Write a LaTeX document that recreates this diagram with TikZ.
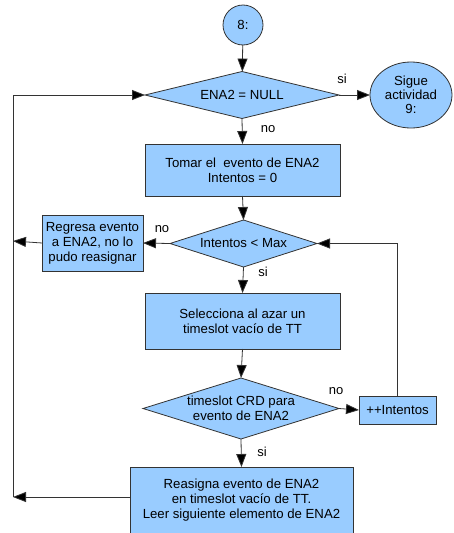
\documentclass[tikz,border=0pt]{standalone}
\usepackage{fontspec}
\setmainfont{Liberation Sans}
\usetikzlibrary{shapes.geometric,arrows.meta}
\definecolor{boxfill}{RGB}{153,204,255}
\definecolor{edge}{RGB}{51,51,51}
\begin{document}
\begin{tikzpicture}[x=1pt,y=-1pt,
  every node/.style={font=\fontsize{13.2}{15}\selectfont, inner sep=0pt, outer sep=0pt},
  proc/.style={draw=edge, line width=0.8pt, fill=boxfill, align=center},
  decide/.style={proc, diamond},
  term/.style={proc, ellipse},
  lbl/.style={font=\fontsize{13}{15}\selectfont},
  arr/.style={draw=edge, line width=0.8pt, -{Triangle[length=13pt,width=10pt,fill=black]}}]
\useasboundingbox (0,0) rectangle (454,533);

% start and end terminals
\node[term, minimum width=40pt, minimum height=40pt] (c8) at (243,25) {8:};
\node[term, minimum width=82pt, minimum height=66pt, align=center,
      font=\fontsize{13.2}{14}\selectfont] (e9) at (411,95) {Sigue\\actividad\\9:};

% decisions
\node[decide, minimum width=194pt, minimum height=47pt, aspect=4.1] (d1) at (242,95) {ENA2 = NULL};
\node[decide, minimum width=147pt, minimum height=47pt, aspect=3.1] (d2) at (243.5,243.5) {Intentos < Max};
\node[decide, minimum width=196pt, minimum height=61pt, aspect=3.2] (d3) at (241,408.5) {timeslot CRD para\\evento de ENA2};

% process boxes
\node[proc, minimum width=195pt, minimum height=52pt] (b1) at (242.5,170) {Tomar el\ \ evento de ENA2\\Intentos = 0};
\node[proc, minimum width=101pt, minimum height=56pt] (rg) at (92.5,243) {Regresa evento\\a ENA2, no lo\\pudo reasignar};
\node[proc, minimum width=195pt, minimum height=56pt] (b2) at (242.5,321) {Selecciona al azar un\\timeslot vacío de TT};
\node[proc, minimum width=77pt, minimum height=28pt] (inc) at (397.5,410) {++Intentos};
\node[proc, minimum width=223pt, minimum height=67pt] (b3) at (241.5,500.5) {Reasigna evento de ENA2\\en timeslot vacío de TT.\\Leer siguiente elemento de ENA2};

% return line on the left
\coordinate (lrg) at (13,241);
\coordinate (lb3) at (13,497);

% connectors
\draw[arr] (c8) -- (d1);
\draw[arr] (d1.east) -- (e9.west);
\draw[arr] (d1.south) -- (b1.north);
\draw[arr] (b1.south) -- (d2.north);
\draw[arr] (d2.west) -- (rg.east);
\draw[arr] (rg.west) -- (lrg);
\draw[arr] (d2.south) -- (b2.north);
\draw[arr] (b2.south) -- (d3.north);
\draw[arr] (d3.east) -- (inc.west);
\draw[arr] (inc.north) |- (d2.east);
\draw[arr] (d3.south) -- (b3.north);
\draw[arr] (b3.west |- lb3) -- (lb3);
\draw[arr] (lb3) |- (d1.west);

% branch labels
\node[lbl] (s1) at (342,79) {si};
\node[lbl] (n1) at (268,129) {no};
\node[lbl] (n2) at (162,229) {no};
\node[lbl] (s2) at (263,272) {si};
\node[lbl] (n3) at (336,391) {no};
\node[lbl] (s3) at (262,452) {si};
\end{tikzpicture}
\end{document}
